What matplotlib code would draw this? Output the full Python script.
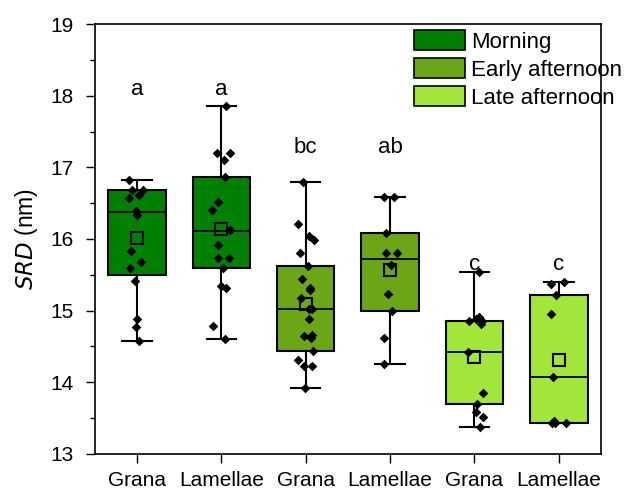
import numpy as np
import matplotlib.pyplot as plt
from matplotlib.patches import Patch
from matplotlib.ticker import MultipleLocator

plt.rcParams['font.family'] = ['Liberation Sans', 'DejaVu Sans']

labels = ['Grana', 'Lamellae', 'Grana', 'Lamellae', 'Grana', 'Lamellae']
periods = ['Morning', 'Early afternoon', 'Late afternoon']
colors = ['#008000', '#6BA617', '#A3E63A']
box_period = [0, 0, 1, 1, 2, 2]

# box statistics
q1 = [15.50, 15.59, 14.44, 15.00, 13.70, 13.43]
med = [16.37, 16.11, 15.03, 15.72, 14.43, 14.07]
q3 = [16.69, 16.87, 15.62, 16.09, 14.86, 15.22]
whislo = [14.57, 14.61, 13.92, 14.26, 13.38, 13.43]
whishi = [16.82, 17.86, 16.79, 16.59, 15.54, 15.40]
means = [16.02, 16.14, 15.09, 15.57, 14.36, 14.31]

# individual points
pts = [
    [16.82, 16.68, 16.69, 16.61, 16.57, 16.39, 16.34, 15.83, 15.68, 15.59,
     15.41, 14.88, 14.77, 14.58],
    [17.86, 17.20, 17.20, 17.10, 16.87, 16.51, 16.41, 16.13, 15.91, 15.74,
     15.73, 15.59, 15.35, 15.32, 14.79, 14.61],
    [16.79, 16.21, 16.04, 15.98, 15.81, 15.62, 15.44, 15.32, 15.29, 15.17,
     15.02, 15.02, 14.89, 14.66, 14.65, 14.62, 14.44, 14.31, 14.23, 14.23,
     13.92],
    [16.59, 16.59, 16.09, 15.81, 15.81, 15.64, 15.23, 15.00, 14.62, 14.26],
    [15.54, 14.91, 14.88, 14.86, 14.85, 14.82, 14.43, 13.85, 13.70, 13.58,
     13.51, 13.38],
    [15.40, 15.37, 15.22, 14.95, 14.07, 13.46, 13.43, 13.43, 13.43],
]

letters = ['a', 'a', 'bc', 'ab', 'c', 'c']
letter_y = [18.08, 18.08, 17.27, 17.27, 15.64, 15.64]

fig = plt.figure(figsize=(6.32, 4.9), dpi=100)
ax = fig.add_axes([0.150, 0.0735, 0.801, 0.8775])

pos = np.arange(1, len(labels) + 1)
stats = []
for i in range(len(labels)):
    stats.append(dict(q1=q1[i], med=med[i], q3=q3[i], whislo=whislo[i],
                      whishi=whishi[i], mean=means[i], fliers=[]))

bp = ax.bxp(stats, positions=pos, widths=0.68, patch_artist=True,
            showmeans=True, showfliers=False,
            boxprops=dict(edgecolor='black', linewidth=1.5),
            medianprops=dict(color='black', linewidth=1.3),
            whiskerprops=dict(color='black', linewidth=1.5),
            capprops=dict(color='black', linewidth=1.5),
            capwidths=0.35,
            meanprops=dict(marker='s', markerfacecolor='none',
                           markeredgecolor='black', markersize=8,
                           markeredgewidth=1.5))
for patch, p in zip(bp['boxes'], box_period):
    patch.set_facecolor(colors[p])

rng = np.random.default_rng(3)
for i, vals in enumerate(pts):
    xs = pos[i] + rng.uniform(-0.11, 0.11, len(vals))
    ax.scatter(xs, vals, marker='D', s=24, color='black', zorder=4,
               linewidths=0)

for i, t in enumerate(letters):
    ax.text(pos[i], letter_y[i], t, ha='center', va='center', fontsize=16)

ax.set_xlim(0.5, 6.5)
ax.set_ylim(13, 19)
ax.set_xticks(pos)
ax.set_xticklabels(labels)
ax.yaxis.set_major_locator(MultipleLocator(1))
ax.yaxis.set_minor_locator(MultipleLocator(0.5))
ax.tick_params(axis='both', which='major', direction='out', length=6.5,
               width=1, labelsize=15)
ax.tick_params(axis='y', which='minor', direction='out', length=3.5, width=1)
ax.tick_params(axis='x', pad=6)
ax.tick_params(axis='y', which='major', pad=9)
ax.set_ylabel(r'$\it{SRD}$ (nm)', fontsize=16.5, labelpad=7)
for s in ax.spines.values():
    s.set_linewidth(1.2)

handles = [Patch(facecolor=c, edgecolor='black', linewidth=1.2) for c in colors]
fig.legend(handles, periods, loc='upper left',
           bbox_to_anchor=(414 / 632, 1 - 30 / 490), frameon=False,
           fontsize=16, handlelength=2.3, handleheight=1.0,
           labelspacing=0.25, handletextpad=0.25, borderpad=0,
           borderaxespad=0)

fig.savefig('out.png', dpi=100)
